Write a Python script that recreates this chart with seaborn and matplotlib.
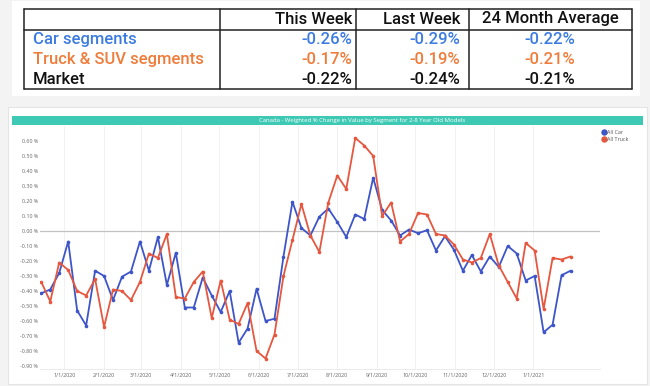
import matplotlib
matplotlib.use('Agg')
import matplotlib.pyplot as plt
from matplotlib.lines import Line2D
from matplotlib.patches import Rectangle
import seaborn as sns
import pandas as pd
import numpy as np

# ---------------- data ----------------
table_header = ["This Week", "Last Week", "24 Month Average"]
table_rows = ["Car segments", "Truck & SUV segments", "Market"]
this_week = ["-0.26%", "-0.17%", "-0.22%"]
last_week = ["-0.29%", "-0.19%", "-0.24%"]
avg_24m = ["-0.22%", "-0.21%", "-0.21%"]

chart_title = "Canada - Weighted % Change in Value by Segment for 2-8 Year Old Models"
series_names = ["All Car", "All Truck"]

dates = pd.date_range("2019-12-14", periods=60, freq="7D")

all_car = [-0.415, -0.39, -0.28, -0.07, -0.53, -0.63, -0.265, -0.30, -0.46, -0.305,
           -0.27, -0.07, -0.265, -0.04, -0.36, -0.145, -0.51, -0.51, -0.31, -0.43,
           -0.54, -0.40, -0.745, -0.65, -0.385, -0.60, -0.585, -0.17, 0.195, 0.02,
           -0.03, 0.095, 0.15, 0.06, -0.04, 0.11, 0.08, 0.355, 0.14, 0.07,
           -0.03, 0.01, -0.015, 0.005, -0.13, -0.035, -0.125, -0.265, -0.16, -0.27,
           -0.17, -0.24, -0.10, -0.15, -0.33, -0.30, -0.675, -0.625, -0.295, -0.265]

all_truck = [-0.34, -0.47, -0.21, -0.26, -0.40, -0.43, -0.32, -0.64, -0.39, -0.40,
             -0.46, -0.34, -0.15, -0.18, -0.02, -0.44, -0.45, -0.34, -0.27, -0.58,
             -0.33, -0.59, -0.62, -0.48, -0.80, -0.85, -0.69, -0.30, -0.06, 0.18,
             -0.03, -0.14, 0.19, 0.37, 0.28, 0.62, 0.57, 0.50, 0.10, 0.19,
             -0.07, -0.02, 0.12, 0.11, -0.02, -0.03, -0.09, -0.19, -0.21, -0.18,
             -0.02, -0.23, -0.34, -0.45, -0.08, -0.13, -0.52, -0.18, -0.19, -0.17]

xtick_dates = pd.date_range("2020-01-01", "2021-01-01", freq="MS")
xtick_labels = ["1/1/2020", "2/1/2020", "3/1/2020", "4/1/2020", "5/1/2020", "6/1/2020",
                "7/1/2020", "8/1/2020", "9/1/2020", "10/1/2020", "11/1/2020",
                "12/1/2020", "1/1/2021"]
ytick_values = [0.6, 0.5, 0.4, 0.3, 0.2, 0.1, 0.0, -0.1, -0.2, -0.3, -0.4, -0.5, -0.6, -0.7, -0.8, -0.9]

# ---------------- style ----------------
BLUE_LINE = "#3d55c8"
RED_LINE = "#e5573f"
BLUE_TXT = "#3c7ce0"
ORANGE_TXT = "#ef7c3a"
TEAL = "#3ec9b5"

sns.set_theme(style="white")
plt.rcParams["font.family"] = ["Roboto", "DejaVu Sans"]

W, H = 650, 386
fig = plt.figure(figsize=(6.5, 3.86), dpi=100)
fig.patch.set_facecolor("#f3f3f3")


def fx(x):
    return x / W


def fy(y):
    return 1 - y / H


def rect(x0, y0, x1, y1, **kw):
    fig.add_artist(Rectangle((fx(x0), fy(y1)), fx(x1) - fx(x0), fy(y0) - fy(y1),
                             transform=fig.transFigure, **kw))


def hline(x0, x1, y, **kw):
    fig.add_artist(Line2D([fx(x0), fx(x1)], [fy(y), fy(y)], transform=fig.transFigure, **kw))


def vline(x, y0, y1, **kw):
    fig.add_artist(Line2D([fx(x), fx(x)], [fy(y0), fy(y1)], transform=fig.transFigure, **kw))


# panels
rect(12, 1, 640, 96, facecolor="white", edgecolor="none", zorder=0)
rect(8, 107, 647, 384, facecolor="white", edgecolor="#e4e4e4", linewidth=0.8, zorder=0)

# ---------------- table ----------------
tl, tr, tt, tb = 24, 632, 8.5, 88.5
col_x = [219.5, 356, 469]
hdr_y = 29.5
lw = 1.1
hline(tl, tr, tt, color="#222", lw=lw)
hline(tl, tr, tb, color="#222", lw=lw)
hline(tl, tr, hdr_y, color="#222", lw=lw)
vline(tl, tt, tb, color="#222", lw=lw)
vline(tr, tt, tb, color="#222", lw=lw)
for cx in col_x:
    vline(cx, tt, tb, color="#222", lw=lw)

fs = 12
fw = "medium"
hy = 19
fig.text(fx(352), fy(hy), table_header[0], ha="right", va="center", fontsize=fs, fontweight=fw, color="#111")
fig.text(fx(460.5), fy(hy), table_header[1], ha="right", va="center", fontsize=fs, fontweight=fw, color="#111")
fig.text(fx(550), fy(hy), table_header[2], ha="center", va="center", fontsize=fs, fontweight=fw, color="#111")

row_colors = [BLUE_TXT, ORANGE_TXT, "#111"]
row_y = [39.5, 59.5, 79]
for i in range(3):
    c = row_colors[i]
    y = fy(row_y[i])
    fig.text(fx(33), y, table_rows[i], ha="left", va="center", fontsize=fs, fontweight=fw, color=c)
    fig.text(fx(352), y, this_week[i], ha="right", va="center", fontsize=fs, fontweight=fw, color=c)
    fig.text(fx(460.5), y, last_week[i], ha="right", va="center", fontsize=fs, fontweight=fw, color=c)
    fig.text(fx(550), y, avg_24m[i], ha="center", va="center", fontsize=fs, fontweight=fw, color=c)

# ---------------- chart ----------------
rect(12, 116, 643, 124.5, facecolor=TEAL, edgecolor="none", zorder=1)
fig.text(fx(362), fy(120.5), chart_title, ha="center", va="center", fontsize=4.3,
         color="white", family=["Open Sans", "DejaVu Sans"], zorder=2)

ax = fig.add_axes([fx(40), fy(369), fx(600) - fx(40), fy(126) - fy(369)])
ax.set_facecolor("none")

df = pd.DataFrame({
    "date": list(dates) * 2,
    "value": all_car + all_truck,
    "series": [series_names[0]] * len(all_car) + [series_names[1]] * len(all_truck),
})
sns.lineplot(data=df, x="date", y="value", hue="series",
             palette={series_names[0]: BLUE_LINE, series_names[1]: RED_LINE},
             marker="o", markersize=2.6, markeredgewidth=0, linewidth=1.3,
             ax=ax, legend=False, zorder=3)

ax.axhline(0, color="#c2c2c2", lw=0.9, zorder=2)
ax.set_xlim(pd.Timestamp("2019-12-13"), pd.Timestamp("2021-02-22"))
ax.set_ylim(-0.92, 0.70)
ax.set_xticks(xtick_dates)
ax.set_xticklabels(xtick_labels)
ax.set_yticks(ytick_values)
ax.set_yticklabels([f"{abs(v):.2f} %" if abs(v) < 1e-9 else f"{v:.2f} %" for v in ytick_values])
ax.grid(axis="x", color="#efefef", lw=0.6)
ax.grid(axis="y", visible=False)
for s in ["top", "right", "left"]:
    ax.spines[s].set_visible(False)
ax.spines["bottom"].set_color("#e8e8e8")
ax.spines["bottom"].set_linewidth(0.6)
ax.tick_params(axis="both", length=0, labelsize=3.9, colors="#666666")
ax.tick_params(axis="y", pad=1.5)
ax.tick_params(axis="x", pad=3)
for lab in ax.get_xticklabels() + ax.get_yticklabels():
    lab.set_family(["Open Sans", "DejaVu Sans"])
ax.set_xlabel("")
ax.set_ylabel("")

handles = [Line2D([], [], marker="o", color=BLUE_LINE, linestyle="none", markersize=3.6),
           Line2D([], [], marker="o", color=RED_LINE, linestyle="none", markersize=3.6)]
leg = fig.legend(handles, series_names, loc="upper left", bbox_to_anchor=(fx(599), fy(127.5)),
                 bbox_transform=fig.transFigure, frameon=False,
                 handlelength=0.7, handletextpad=0.3, labelspacing=0.35, borderpad=0,
                 prop={"family": ["Open Sans", "DejaVu Sans"], "size": 3.9})
for t in leg.get_texts():
    t.set_color("#555555")

fig.savefig("out.png", dpi=100, facecolor=fig.get_facecolor())
